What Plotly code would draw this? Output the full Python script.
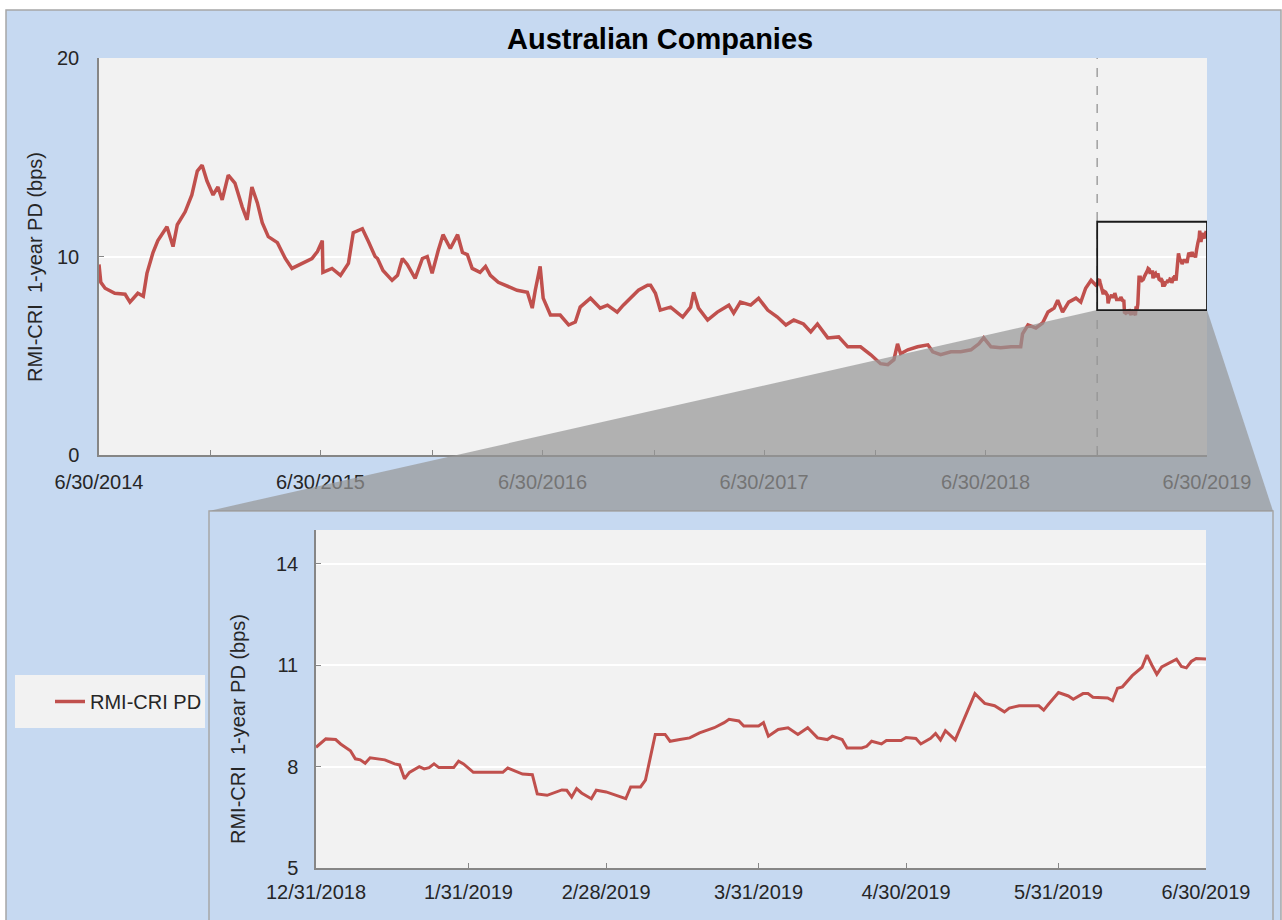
import pandas as pd
import plotly.graph_objects as go

W, H = 1282, 920
FONT = "Liberation Sans, Arial, sans-serif"
RED = "#C0504D"
PANEL = "#C6D9F1"
PLOT_BG = "#F2F2F2"

# Full history (days after 6/30/2014, PD in bps)
hist_days = [0, 3, 10, 26, 43, 51, 64, 73, 79, 89, 97, 112, 122, 129, 142, 153, 162, 170,
             178, 188, 196, 203, 213, 224, 236, 244, 252, 261, 269, 279, 294, 307, 318, 335,
             351, 360, 368, 369, 384, 398, 411, 419, 434, 444, 455, 459, 468, 483, 492, 500,
             508, 521, 533, 541, 549, 559, 567, 579, 591, 599, 607, 615, 628, 637, 645, 658,
             673, 689, 706, 714, 719, 727, 732, 744, 760, 774, 785, 793, 810, 826, 838, 854,
             864, 876, 889, 904, 909, 917, 925, 942, 962, 975, 980, 988, 1003, 1019, 1038,
             1046, 1057, 1074, 1087, 1102, 1118, 1132, 1145, 1161, 1173, 1184, 1201, 1219,
             1234, 1255, 1272, 1288, 1300, 1310, 1316, 1321, 1333, 1349, 1366, 1374, 1387,
             1404, 1420, 1437, 1450, 1458, 1470, 1486, 1503, 1519, 1522, 1531, 1544, 1555,
             1564, 1574, 1580, 1588, 1598, 1610, 1618, 1626, 1635, 1643]
hist_pd = [9.6, 8.7, 8.4, 8.15, 8.1, 7.7, 8.15, 8.0, 9.15, 10.2, 10.8, 11.5, 10.5, 11.6, 12.25,
           13.1, 14.3, 14.6, 13.8, 13.1, 13.5, 12.85, 14.1, 13.7, 12.5, 11.85, 13.5, 12.7,
           11.7, 11.0, 10.7, 9.9, 9.4, 9.65, 9.9, 10.25, 10.8, 9.2, 9.4, 9.05, 9.65, 11.2,
           11.4, 10.75, 10.0, 9.9, 9.3, 8.8, 9.05, 9.9, 9.6, 8.9, 9.9, 10.0, 9.15, 10.3, 11.1,
           10.4, 11.1, 10.2, 10.1, 9.4, 9.2, 9.5, 9.05, 8.7, 8.5, 8.3, 8.2, 7.4, 8.3, 9.5,
           7.9, 7.05, 7.05, 6.55, 6.7, 7.45, 7.9, 7.4, 7.55, 7.2, 7.55, 7.9, 8.3, 8.55, 8.55,
           8.15, 7.3, 7.45, 6.95, 7.45, 8.2, 7.4, 6.8, 7.2, 7.55, 7.15, 7.7, 7.55, 7.9, 7.3,
           6.95, 6.55, 6.8, 6.6, 6.2, 6.6, 5.9, 5.95, 5.45, 5.45, 5.05, 4.6, 4.55, 4.8, 5.6,
           5.1, 5.3, 5.45, 5.55, 5.2, 5.05, 5.2, 5.2, 5.3, 5.6, 5.9, 5.45, 5.4, 5.45, 5.45,
           6.1, 6.55, 6.4, 6.65, 7.2, 7.4, 7.8, 7.2, 7.7, 7.9, 7.7, 8.4, 8.8, 8.55]

# Zoomed half-year (days after 12/31/2018, PD in bps)
zoom_days = [0, 2, 4, 5, 7, 8, 9, 10, 11, 12, 14, 16, 17, 18, 19, 21, 22, 23, 24, 25, 28, 29,
             30, 32, 35, 38, 39, 40, 42, 44, 45, 47, 48, 50, 51, 52, 53, 54, 56, 57, 59, 61,
             63, 64, 66, 67, 69, 71, 72, 74, 76, 78, 81, 83, 84, 86, 87, 90, 91, 92, 94, 96,
             98, 100, 102, 104, 105, 107, 108, 111, 112, 113, 115, 116, 119, 120, 122, 123,
             125, 126, 127, 128, 130, 134, 136, 138, 140, 141, 143, 147, 148, 149, 151, 153,
             154, 156, 157, 158, 161, 162, 163, 164, 166, 168, 169, 170, 171, 172, 175, 176,
             177, 178, 179, 181]
zoom_pd = [8.57, 8.82, 8.8, 8.67, 8.47, 8.23, 8.2, 8.1, 8.26, 8.24, 8.2, 8.08, 8.05, 7.64,
           7.83, 8.0, 7.93, 7.97, 8.08, 7.97, 7.97, 8.16, 8.08, 7.83, 7.83, 7.83, 7.96, 7.9,
           7.78, 7.76, 7.19, 7.15, 7.2, 7.31, 7.3, 7.1, 7.35, 7.22, 7.05, 7.3, 7.25, 7.15,
           7.05, 7.4, 7.4, 7.6, 8.95, 8.95, 8.75, 8.8, 8.85, 9.0, 9.15, 9.3, 9.4, 9.35, 9.2,
           9.2, 9.3, 8.9, 9.1, 9.15, 8.95, 9.15, 8.85, 8.8, 8.9, 8.8, 8.55, 8.55, 8.6, 8.75,
           8.67, 8.77, 8.77, 8.86, 8.83, 8.67, 8.84, 8.98, 8.79, 9.06, 8.79, 10.16, 9.87, 9.8,
           9.62, 9.73, 9.8, 9.8, 9.67, 9.85, 10.19, 10.09, 9.99, 10.16, 10.16, 10.05, 10.03,
           9.95, 10.32, 10.36, 10.69, 10.94, 11.3, 11.0, 10.73, 10.95, 11.18, 10.96, 10.92,
           11.11, 11.2, 11.18]

top_ticks = ["6/30/2014", "6/30/2015", "6/30/2016", "6/30/2017", "6/30/2018", "6/30/2019"]
top_minor = ["12/31/2014", "12/31/2015", "12/31/2016", "12/31/2017", "12/31/2018"]
inset_ticks = ["12/31/2018", "1/31/2019", "2/28/2019", "3/31/2019", "4/30/2019",
               "5/31/2019", "6/30/2019"]
zoom_box_pd = [7.3, 11.75]

hist_dates = pd.Timestamp("2014-06-30") + pd.to_timedelta(hist_days, unit="D")
zoom_dates = pd.Timestamp("2018-12-31") + pd.to_timedelta(zoom_days, unit="D")
all_dates = list(hist_dates) + list(zoom_dates)
all_pd = hist_pd + zoom_pd

top_range = [pd.Timestamp("2014-06-30"), pd.Timestamp("2019-06-30")]
inset_range = [pd.Timestamp("2018-12-31"), pd.Timestamp("2019-06-30")]

# subplot domains in paper units
top_dx = [99 / W, 1207 / W]
top_dy = [1 - 455 / H, 1 - 58 / H]
ins_dx = [316 / W, 1206 / W]
ins_dy = [1 - 868 / H, 1 - 530 / H]


def px(x):
    return x / W


def py(y):
    return 1 - y / H


def top_paper(date, val):
    fx = (pd.Timestamp(date) - top_range[0]) / (top_range[1] - top_range[0])
    fy = val / 20
    return (top_dx[0] + fx * (top_dx[1] - top_dx[0]),
            top_dy[0] + fy * (top_dy[1] - top_dy[0]))


fig = go.Figure()

fig.add_trace(go.Scatter(x=all_dates, y=all_pd, mode="lines", name="RMI-CRI PD",
                         line=dict(color=RED, width=3.5), xaxis="x", yaxis="y"))
fig.add_trace(go.Scatter(x=list(zoom_dates), y=zoom_pd, mode="lines", name="RMI-CRI PD",
                         line=dict(color=RED, width=3), showlegend=False,
                         xaxis="x2", yaxis="y2"))

axis_common = dict(showline=True, linecolor="#868686", linewidth=1.5, ticks="inside",
                   ticklen=5, tickcolor="#868686", tickfont=dict(size=20, color="#262626"),
                   zeroline=False, fixedrange=True)

fig.update_layout(
    width=W, height=H, autosize=False,
    margin=dict(l=0, r=0, t=0, b=0, autoexpand=False),
    paper_bgcolor="white", plot_bgcolor="rgba(0,0,0,0)",
    font=dict(family=FONT, color="#262626"),
    xaxis=dict(domain=top_dx, anchor="y", type="date", range=top_range, showgrid=False,
               tickmode="array", tickvals=pd.to_datetime(top_ticks), ticktext=top_ticks,
               minor=dict(tickvals=pd.to_datetime(top_minor), ticks="inside", ticklen=5,
                          tickcolor="#868686", showgrid=False),
               ticklabelstandoff=8, **axis_common),
    yaxis=dict(domain=top_dy, anchor="x", range=[0, 20], tickvals=[0, 10, 20],
               showgrid=True, gridcolor="white", gridwidth=2, ticklabelstandoff=14,
               **axis_common),
    xaxis2=dict(domain=ins_dx, anchor="y2", type="date", range=inset_range, showgrid=False,
                tickmode="array", tickvals=pd.to_datetime(inset_ticks), ticktext=inset_ticks,
                ticklabelstandoff=5, **axis_common),
    yaxis2=dict(domain=ins_dy, anchor="x2", range=[5, 15], tickvals=[5, 8, 11, 14],
                showgrid=True, gridcolor="white", gridwidth=2, ticklabelstandoff=12,
                **axis_common),
    showlegend=True,
    legend=dict(x=px(50), y=py(701.5), xanchor="left", yanchor="middle",
                bgcolor="rgba(0,0,0,0)", font=dict(size=20, color="#262626")),
)

# wedge linking the zoom box to the inset panel
bl = top_paper(inset_range[0], zoom_box_pd[0])
br = top_paper(inset_range[1], zoom_box_pd[0])
inset_panel = [209, 511, 1273]
wedge = (f"M {bl[0]},{bl[1]} L {br[0]},{br[1]} "
         f"L {px(inset_panel[2])},{py(inset_panel[1])} L {px(inset_panel[0])},{py(inset_panel[1])} Z")

fig.update_layout(shapes=[
    # outer panel
    dict(type="rect", xref="paper", yref="paper", x0=px(6), x1=px(1281), y0=-0.05, y1=py(10),
         fillcolor=PANEL, line=dict(color="#A6A6A6", width=1.5), layer="below"),
    # inset panel
    dict(type="rect", xref="paper", yref="paper", x0=px(inset_panel[0]), x1=px(inset_panel[2]),
         y0=-0.05, y1=py(inset_panel[1]), fillcolor=PANEL,
         line=dict(color="#A6A6A6", width=1.5), layer="below"),
    # plot backgrounds
    dict(type="rect", xref="paper", yref="paper", x0=top_dx[0], x1=top_dx[1],
         y0=top_dy[0], y1=top_dy[1], fillcolor=PLOT_BG, line=dict(width=0), layer="below"),
    dict(type="rect", xref="paper", yref="paper", x0=ins_dx[0], x1=ins_dx[1],
         y0=ins_dy[0], y1=ins_dy[1], fillcolor=PLOT_BG, line=dict(width=0), layer="below"),
    # legend box
    dict(type="rect", xref="paper", yref="paper", x0=px(15), x1=px(205), y0=py(728),
         y1=py(675), fillcolor=PLOT_BG, line=dict(width=0), layer="below"),
    # start of the zoomed period
    dict(type="line", xref="x", yref="y", x0=inset_range[0], x1=inset_range[0], y0=0, y1=20,
         line=dict(color="#A0A0A0", width=1.5, dash="dash"), layer="below"),
    dict(type="path", xref="paper", yref="paper", path=wedge,
         fillcolor="rgba(150,150,150,0.7)", line=dict(width=0), layer="above"),
    dict(type="rect", xref="x", yref="y", x0=inset_range[0], x1=inset_range[1],
         y0=zoom_box_pd[0], y1=zoom_box_pd[1], line=dict(color="#1A1A1A", width=1.8),
         layer="above"),
])

fig.update_layout(annotations=[
    dict(text="<b>Australian Companies</b>", x=px(660), y=py(39), xref="paper", yref="paper",
         xanchor="center", yanchor="middle", showarrow=False,
         font=dict(size=29, color="black")),
    dict(text="RMI-CRI  1-year PD (bps)", x=px(35), y=py(267), xref="paper", yref="paper",
         xanchor="center", yanchor="middle", showarrow=False, textangle=-90,
         font=dict(size=20, color="#262626")),
    dict(text="RMI-CRI  1-year PD (bps)", x=px(238), y=py(729), xref="paper", yref="paper",
         xanchor="center", yanchor="middle", showarrow=False, textangle=-90,
         font=dict(size=20, color="#262626")),
])

fig.write_html("out.html", config={"displayModeBar": False},
               post_script="document.body.style.margin='0px';")
